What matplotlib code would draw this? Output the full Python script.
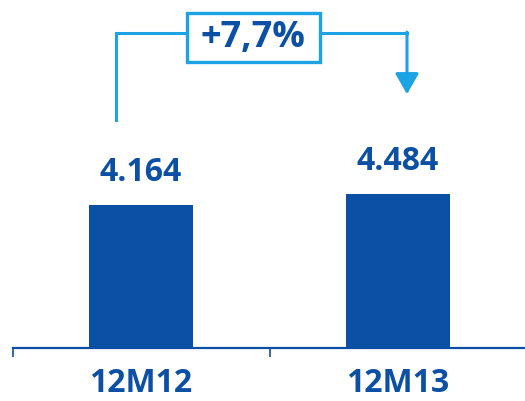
import matplotlib
matplotlib.use('Agg')
import matplotlib.pyplot as plt
from matplotlib.patches import Rectangle

categories = ['12M12', '12M13']
values = [4164, 4484]
value_labels = ['4.164', '4.484']
change_label = '+7,7%'

dark = '#0B50A5'
light = '#1BA3E6'

fig = plt.figure(figsize=(5.25, 4.01), dpi=100)
ax = fig.add_axes([12.5 / 525, 53 / 401, 514 / 525, 343 / 401])

x = list(range(len(categories)))
ax.bar(x, values, width=0.405, color=dark)
for xi, v, lab in zip(x, values, value_labels):
    ax.text(xi, v + 480, lab, ha='center', va='bottom', color=dark,
            fontsize=23, fontweight='bold', family=['Open Sans', 'DejaVu Sans'])

ax.set_xlim(-0.5, 1.5)
ax.set_ylim(0, 10000)
ax.set_yticks([])
for s in ['top', 'right', 'left']:
    ax.spines[s].set_visible(False)
ax.spines['bottom'].set_color(dark)
ax.spines['bottom'].set_linewidth(1.6)

ax.set_xticks(x)
ax.set_xticklabels(categories, fontsize=23, fontweight='bold', color=dark,
                   family=['Open Sans', 'DejaVu Sans'])
ax.tick_params(axis='x', which='major', length=0, pad=14)
ax.set_xticks([-0.5, 0.5], minor=True)
ax.tick_params(axis='x', which='minor', length=6.5, width=1.2, color=dark,
               direction='out')

# growth bracket
y_top = 9180
left_x, right_x = -0.097, 1.035
box_x0, box_x1 = 0.179, 0.696
ax.plot([left_x, left_x, box_x0], [6650, y_top, y_top], color=light, lw=2.2,
        solid_joinstyle='miter', clip_on=False)
ax.plot([box_x1, right_x], [y_top, y_top], color=light, lw=2.2, clip_on=False)
ax.annotate('', xy=(right_x, 7400), xytext=(right_x, y_top + 30),
            arrowprops=dict(arrowstyle='-|>,head_length=0.7,head_width=0.4',
                            color=light, lw=2.2, mutation_scale=18,
                            shrinkA=0, shrinkB=0))
ax.add_patch(Rectangle((box_x0, 8330), box_x1 - box_x0, 1430, fill=False,
                       edgecolor=light, lw=2.4, clip_on=False))
ax.text((box_x0 + box_x1) / 2, 9045, change_label, ha='center', va='center',
        color=dark, fontsize=26, fontweight='bold',
        family=['Open Sans', 'DejaVu Sans'])

fig.savefig('out.png', dpi=100)
